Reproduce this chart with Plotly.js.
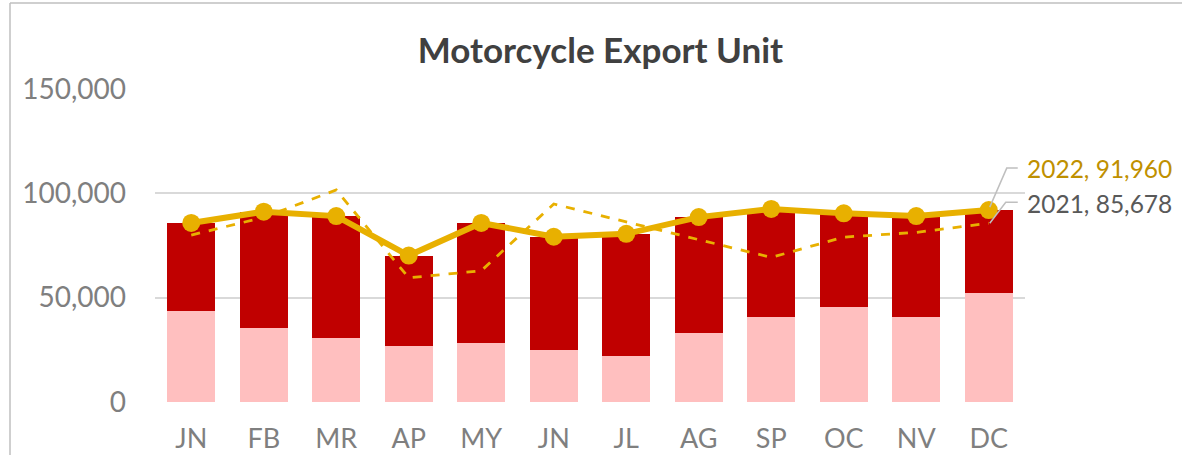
<!DOCTYPE html>
<html>
<head>
<meta charset="utf-8">
<script src="https://cdn.plot.ly/plotly-3.0.1.min.js"></script>
<style>
  html, body { margin: 0; padding: 0; background: #ffffff; overflow: hidden; }
  #chart { width: 1182px; height: 455px; }
</style>
</head>
<body>
<div id="chart"></div>
<script>
// ---- data ----
const months = ["JN", "FB", "MR", "AP", "MY", "JN", "JL", "AG", "SP", "OC", "NV", "DC"];
const lowerPart = [43700, 35700, 30900, 26900, 28500, 25100, 21900, 33300, 40500, 45600, 40600, 52000];
const upperPart = [42100, 55500, 58200, 43300, 57300, 54100, 58700, 55300, 52000, 44800, 48500, 39960];
const total2022 = [85800, 91200, 89100, 70200, 85800, 79200, 80600, 88600, 92500, 90400, 89100, 91960];
const total2021 = [80000, 88500, 101600, 59500, 62900, 94900, 86300, 77800, 69300, 79000, 81300, 85678];
const yearLabels = ["2021", "2022"];
const yTicks = [0, 50000, 100000, 150000];

const idx = months.map((_, i) => i);
const last = months.length - 1;
const fmt = v => v.toLocaleString("en-US");

const gold = "#E8B000";
const font = "Lato, 'Open Sans', sans-serif";

const traces = [
  { type: "bar", x: idx, y: lowerPart, name: "Lower", marker: { color: "#FFBFBF" }, hoverinfo: "y" },
  { type: "bar", x: idx, y: upperPart, name: "Upper", marker: { color: "#C00000" }, hoverinfo: "y" },
  { type: "scatter", mode: "lines", x: idx, y: total2021, name: yearLabels[0],
    line: { color: gold, width: 2.8, dash: "dash" } },
  { type: "scatter", mode: "lines+markers", x: idx, y: total2022, name: yearLabels[1],
    line: { color: gold, width: 6 }, marker: { color: gold, size: 18 } }
];

const pxW = 870, pxH = 313; // plot area size (for border lines in paper units)
const frameColor = "#BFBFBF";
const layout = {
  width: 1182, height: 455,
  margin: { l: 155, r: 157, t: 89, b: 53 },
  paper_bgcolor: "#ffffff", plot_bgcolor: "#ffffff",
  barmode: "stack", bargap: 0.34,
  showlegend: false,
  title: { text: "<b>Motorcycle Export Unit</b>", x: 0.508, xref: "container", y: 0.888, yref: "container",
           yanchor: "middle", font: { family: font, size: 35, color: "#404040" } },
  xaxis: {
    tickvals: idx, ticktext: months, range: [-0.5, last + 0.5],
    showgrid: false, zeroline: false, showline: false, ticks: "",
    ticklabelstandoff: 18,
    tickfont: { family: font, size: 27, color: "#7F7F7F" }
  },
  yaxis: {
    range: [0, 150000], tickvals: yTicks, ticktext: yTicks.map(fmt),
    showgrid: true, gridcolor: "#D9D9D9", gridwidth: 2,
    zeroline: false, showline: false, ticks: "",
    ticklabelstandoff: 28,
    tickfont: { family: font, size: 28, color: "#7F7F7F" }
  },
  shapes: [
    { type: "line", xref: "paper", yref: "paper",
      x0: (10 - 155) / pxW, x1: (10 - 155) / pxW, y0: (402 - 460) / pxH, y1: (402 - 3) / pxH,
      line: { color: frameColor, width: 1.5 }, layer: "below" },
    { type: "line", xref: "paper", yref: "paper",
      x0: (10 - 155) / pxW, x1: (1190 - 155) / pxW, y0: (402 - 3) / pxH, y1: (402 - 3) / pxH,
      line: { color: frameColor, width: 1.5 }, layer: "below" },
    { type: "path", xref: "x", yref: "y", xsizemode: "pixel", ysizemode: "pixel",
      xanchor: last, yanchor: total2022[last],
      path: "M 1 3 L 18 42 L 29 42", line: { color: frameColor, width: 1.5 } },
    { type: "path", xref: "x", yref: "y", xsizemode: "pixel", ysizemode: "pixel",
      xanchor: last, yanchor: total2021[last],
      path: "M 1 0 L 17 21 L 29 21", line: { color: frameColor, width: 1.5 } }
  ],
  annotations: [
    { x: last, y: total2022[last], xref: "x", yref: "y", xanchor: "left", yanchor: "middle",
      xshift: 36, yshift: 42, showarrow: false,
      text: yearLabels[1] + ", " + fmt(total2022[last]),
      font: { family: font, size: 24.5, color: "#BF9000" } },
    { x: last, y: total2021[last], xref: "x", yref: "y", xanchor: "left", yanchor: "middle",
      xshift: 36, yshift: 20, showarrow: false,
      text: yearLabels[0] + ", " + fmt(total2021[last]),
      font: { family: font, size: 24.5, color: "#595959" } }
  ]
};

Plotly.newPlot("chart", traces, layout, { displayModeBar: false, staticPlot: true });
</script>
</body>
</html>
